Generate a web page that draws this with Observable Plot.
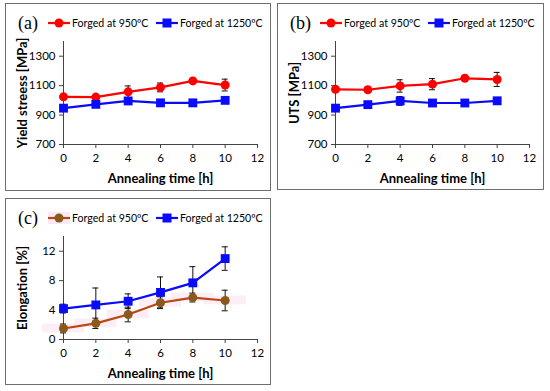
<!DOCTYPE html>
<html><head><meta charset="utf-8">
<script src="https://cdn.jsdelivr.net/npm/d3@7"></script>
<script src="https://cdn.jsdelivr.net/npm/@observablehq/plot@0.6"></script>
<style>
body{margin:0;background:#fff;}
#root{position:relative;width:550px;height:391px;overflow:hidden;font-family:Lato,sans-serif;}
.panel{position:absolute;border:1px solid #6e6e6e;box-sizing:border-box;}
.panel svg{position:absolute;left:0;top:0;overflow:visible;}
.tag{position:absolute;font-family:"Liberation Serif",serif;font-size:18px;line-height:18px;color:#000;}
.leg{position:absolute;display:flex;align-items:center;font-size:10.6px;line-height:12px;color:#000;white-space:nowrap;}
.leg svg{position:static;margin-right:2px;}
</style></head><body><div id="root"></div>
<script>
// ---- data ----
const times = [0, 2, 4, 6, 8, 10];
const xTicks = [0, 2, 4, 6, 8, 10, 12];
const stressTicks = [700, 900, 1100, 1300];
const elongTicks = [0, 4, 8, 12];
const seriesNames = ["Forged at 950ºC", "Forged at 1250ºC"];
const panelTags = ["(a)", "(b)", "(c)"];
const yTitles = ["Yield streess [MPa]", "UTS [MPa]", "Elongation [%]"];
const xTitle = "Annealing time [h]";

const ys950 = [1024, 1022, 1058, 1088, 1132, 1104];
const ys950err = [10, 8, 40, 30, 10, 40];
const ys1250 = [947, 973, 996, 983, 983, 1000];
const ys1250err = [8, 8, 10, 8, 8, 8];

const uts950 = [1075, 1072, 1098, 1110, 1150, 1142];
const uts950err = [10, 10, 42, 38, 10, 48];
const uts1250 = [947, 971, 996, 982, 982, 997];
const uts1250err = [8, 8, 30, 8, 8, 8];

const el950 = [1.5, 2.2, 3.4, 5.0, 5.7, 5.3];
const el950err = [0.6, 0.7, 1.0, 0.8, 0.6, 1.4];
const el1250 = [4.2, 4.7, 5.2, 6.4, 7.7, 11.0];
const el1250err = [0.6, 2.3, 1.0, 2.1, 2.2, 1.6];

const red = "#ff0000", blue = "#0a0aff", brownLine = "#b9470f", brownDot = "#8a5a1c";

function rows(ys, errs) {
  return times.map((t, i) => ({t, v: ys[i], e: errs[i]}));
}

function makePlot({domain, ticks, s1, s2, c1, c2, dot1, yTitle, pink}) {
  const err = (data) => [
    Plot.ruleX(data, {x: "t", y1: d => d.v - d.e, y2: d => d.v + d.e, stroke: "#111", strokeWidth: 1}),
    Plot.ruleY(data, {y: d => d.v + d.e, x1: "t", x2: "t", insetLeft: -3, insetRight: -3, stroke: "#111", strokeWidth: 1}),
    Plot.ruleY(data, {y: d => d.v - d.e, x1: "t", x2: "t", insetLeft: -3, insetRight: -3, stroke: "#111", strokeWidth: 1})
  ];
  const marks = [];
  if (pink) {
    marks.push(Plot.rect(s1, {x1: d => d.t - 1.3, x2: d => d.t + 1.3, y1: d => d.v - 0.6, y2: d => d.v + 0.6, fill: "#fce9f5", fillOpacity: 0.8}));
  }
  marks.push(
    Plot.ruleX([0], {y1: domain[0], y2: domain[1], stroke: "#444", strokeWidth: 1}),
    Plot.ruleY([domain[0]], {x1: 0, x2: 12, stroke: "#444", strokeWidth: 1}),
    Plot.axisX({ticks: xTicks, tickSize: 4, tickPadding: 5, label: null, stroke: "#444", fontSize: 11.5}),
    Plot.axisY({ticks, tickSize: 4, tickPadding: 4, label: null, stroke: "#444", fontSize: 11.5, tickFormat: d => String(d)}),
    ...err(s1), ...err(s2),
    Plot.line(s1, {x: "t", y: "v", stroke: c1, strokeWidth: 2.2}),
    Plot.line(s2, {x: "t", y: "v", stroke: c2, strokeWidth: 2.2}),
    Plot.dot(s1, {x: "t", y: "v", symbol: "circle", r: 4.5, fill: dot1, stroke: "none"}),
    Plot.dot(s2, {x: "t", y: "v", symbol: "square", r: 5, fill: c2, stroke: "none"}),
    Plot.text([xTitle], {frameAnchor: "bottom", lineAnchor: "middle", dy: 34, fontWeight: "bold", fontSize: 13, fill: "#000"}),
    Plot.text([yTitle], {frameAnchor: "left", textAnchor: "middle", lineAnchor: "middle", rotate: -90, dx: -41, fontWeight: "bold", fontSize: 13, fill: "#000"})
  );
  return Plot.plot({
    width: 264, height: 186,
    marginLeft: 57, marginRight: 13, marginTop: 37, marginBottom: 46,
    x: {domain: [0, 12]},
    y: {domain},
    style: {fontFamily: "Lato, sans-serif", fontSize: "11.5px", color: "#000", background: "transparent", overflow: "visible"},
    marks
  });
}

function legendSwatch(color, dotColor, symbol) {
  const ns = "http://www.w3.org/2000/svg";
  const svg = document.createElementNS(ns, "svg");
  svg.setAttribute("width", 22); svg.setAttribute("height", 10);
  const line = document.createElementNS(ns, "line");
  line.setAttribute("x1", 0); line.setAttribute("x2", 22); line.setAttribute("y1", 5); line.setAttribute("y2", 5);
  line.setAttribute("stroke", color); line.setAttribute("stroke-width", 2.2);
  svg.appendChild(line);
  let m;
  if (symbol === "circle") {
    m = document.createElementNS(ns, "circle");
    m.setAttribute("cx", 11); m.setAttribute("cy", 5); m.setAttribute("r", 4.5);
  } else {
    m = document.createElementNS(ns, "rect");
    m.setAttribute("x", 6.5); m.setAttribute("y", 0.5); m.setAttribute("width", 9); m.setAttribute("height", 9);
  }
  m.setAttribute("fill", dotColor);
  svg.appendChild(m);
  return svg;
}

const root = document.getElementById("root");
const panels = [
  {left: 5, top: 3, w: 266, h: 188, domain: [700, 1400], ticks: stressTicks, s1: rows(ys950, ys950err), s2: rows(ys1250, ys1250err), c1: red, dot1: red, c2: blue},
  {left: 277, top: 3, w: 267, h: 187, domain: [700, 1400], ticks: stressTicks, s1: rows(uts950, uts950err), s2: rows(uts1250, uts1250err), c1: red, dot1: red, c2: blue},
  {left: 5, top: 198, w: 266, h: 187, domain: [0, 14], ticks: elongTicks, s1: rows(el950, el950err), s2: rows(el1250, el1250err), c1: brownLine, dot1: brownDot, c2: blue, pink: true}
];
panels.forEach((p, i) => {
  const div = document.createElement("div");
  div.className = "panel";
  Object.assign(div.style, {left: p.left + "px", top: p.top + "px", width: p.w + "px", height: p.h + "px"});
  const chart = makePlot({...p, yTitle: yTitles[i]});
  chart.style.left = "0px"; chart.style.top = "0px";
  div.appendChild(chart);
  const tag = document.createElement("div");
  tag.className = "tag"; tag.textContent = panelTags[i];
  Object.assign(tag.style, {left: "12px", top: "10px"});
  div.appendChild(tag);
  const items = [[p.c1, p.dot1, "circle", seriesNames[0], 42], [p.c2, p.c2, "square", seriesNames[1], 150]];
  items.forEach(([c, dc, sym, name, x]) => {
    const lg = document.createElement("div");
    lg.className = "leg";
    Object.assign(lg.style, {left: x + "px", top: "13px"});
    if (p.pink && sym === "circle") lg.style.background = "linear-gradient(90deg,#fce9f5 0,#fce9f5 22px,transparent 22px)";
    lg.appendChild(legendSwatch(c, dc, sym));
    const sp = document.createElement("span"); sp.textContent = name;
    lg.appendChild(sp);
    div.appendChild(lg);
  });
  root.appendChild(div);
});
</script>
</body></html>
